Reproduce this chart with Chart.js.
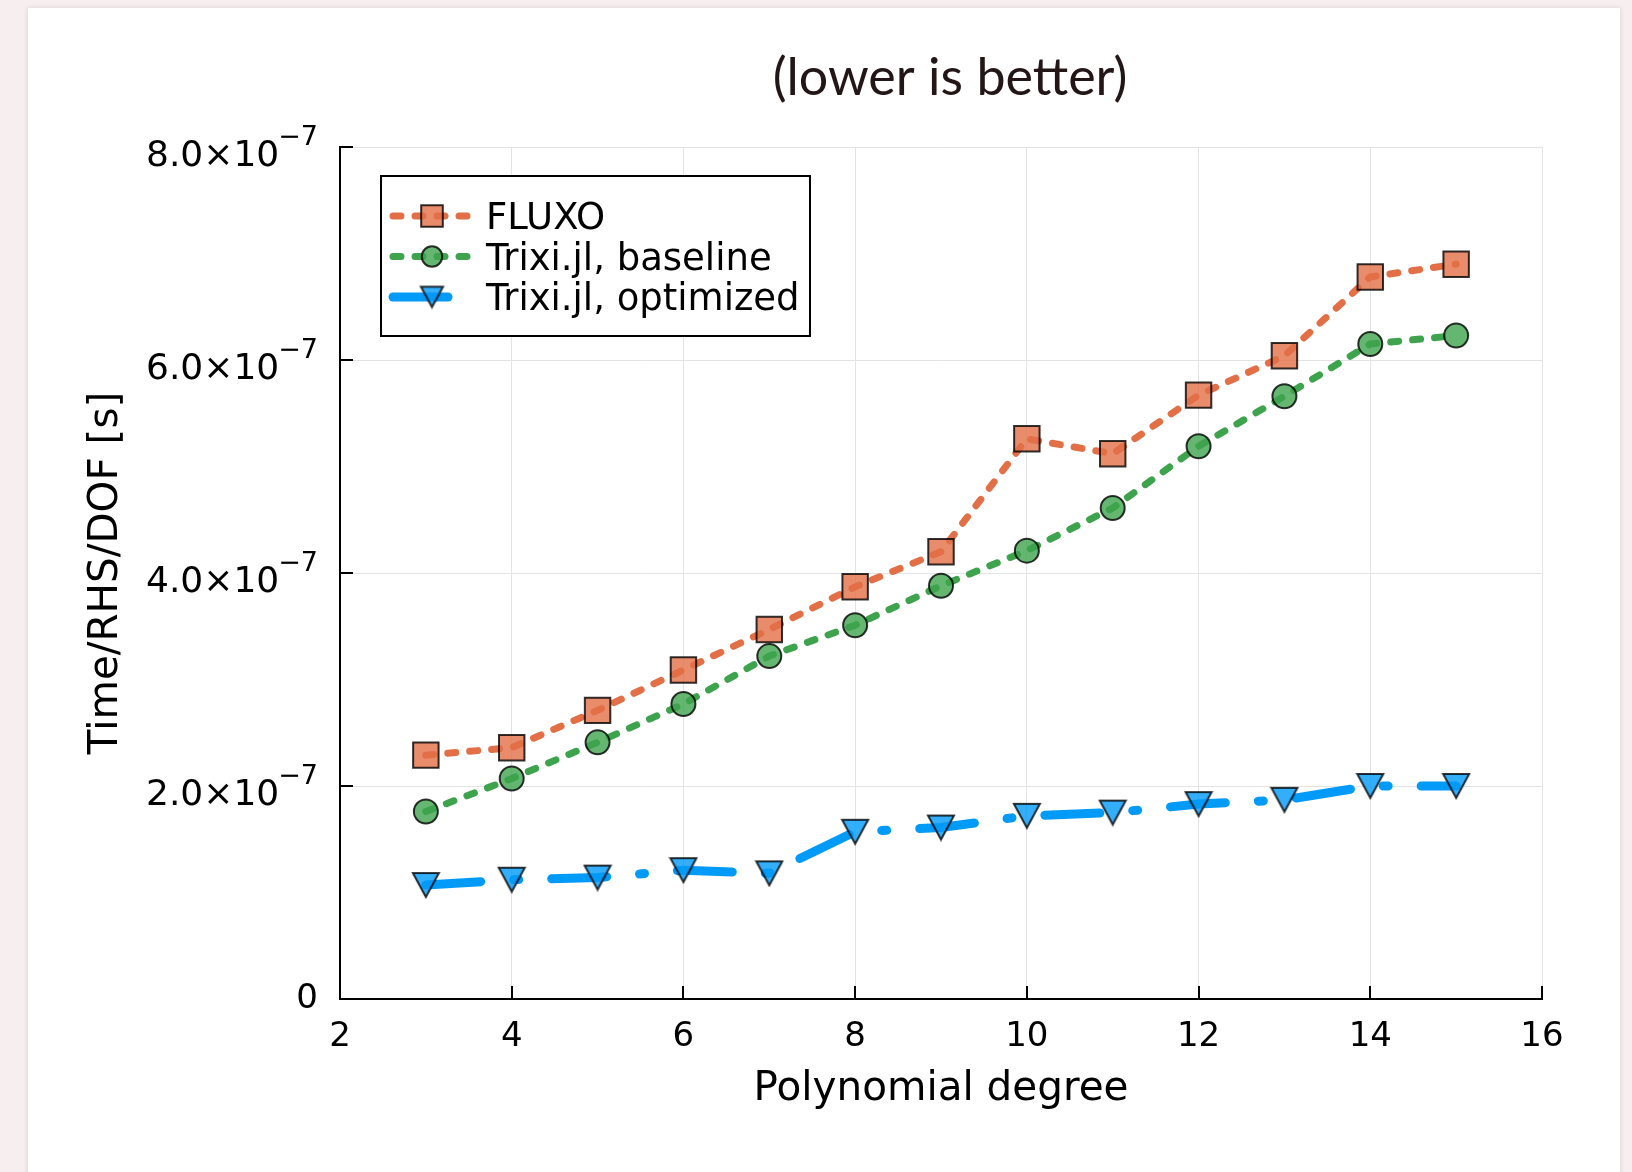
<!DOCTYPE html>
<html>
<head>
<meta charset="utf-8">
<script src="https://cdn.jsdelivr.net/npm/chart.js@4.4.1/dist/chart.umd.min.js"></script>
<style>
  html, body { margin: 0; padding: 0; }
  body { width: 1632px; height: 1172px; background: #f6eeef; position: relative; overflow: hidden; }
  #card { position: absolute; left: 28px; top: 8px; width: 1592px; height: 1200px; background: #fff; box-shadow: 0 0 5px rgba(120, 80, 80, 0.18); }
  #wrap { position: absolute; left: 0; top: 0; width: 1632px; height: 1172px; }
</style>
</head>
<body>
<div id="card"></div>
<div id="wrap"><canvas id="chart" width="1632" height="1172"></canvas></div>
<script>
var degrees = [3, 4, 5, 6, 7, 8, 9, 10, 11, 12, 13, 14, 15];
var fluxoTimes = [2.29e-7, 2.36e-7, 2.71e-7, 3.09e-7, 3.47e-7, 3.87e-7, 4.20e-7, 5.26e-7, 5.12e-7, 5.67e-7, 6.04e-7, 6.78e-7, 6.90e-7];
var baselineTimes = [1.76e-7, 2.07e-7, 2.41e-7, 2.77e-7, 3.22e-7, 3.51e-7, 3.88e-7, 4.21e-7, 4.61e-7, 5.19e-7, 5.66e-7, 6.15e-7, 6.23e-7];
var optimizedTimes = [1.07e-7, 1.12e-7, 1.14e-7, 1.21e-7, 1.18e-7, 1.57e-7, 1.61e-7, 1.72e-7, 1.75e-7, 1.83e-7, 1.87e-7, 2.00e-7, 2.00e-7];
var seriesNames = ['FLUXO', 'Trixi.jl, baseline', 'Trixi.jl, optimized'];

var xTicks = [2, 4, 6, 8, 10, 12, 14, 16];
var yTicks = [0, 2e-7, 4e-7, 6e-7, 8e-7];
var yTickBase = ['0', '2.0\u00d710', '4.0\u00d710', '6.0\u00d710', '8.0\u00d710'];
var yTickExp = ['', '\u22127', '\u22127', '\u22127', '\u22127'];

var titleText = '(lower is better)';
var xTitle = 'Polynomial degree';
var yTitle = 'Time/RHS/DOF [s]';

var FONT = '"DejaVu Sans", sans-serif';

function toPoints(ys) {
  return degrees.map(function (d, i) { return {x: d, y: ys[i]}; });
}

// downward triangle marker, centred on its bounding box like the GR one
function makeTriangle(scale) {
  var w = 26 * scale, h = 24 * scale;
  var c = document.createElement('canvas');
  c.width = Math.ceil(w + 4);
  c.height = Math.ceil(h + 4);
  var g = c.getContext('2d');
  var cx = c.width / 2, cy = c.height / 2;
  g.beginPath();
  g.moveTo(cx - w / 2, cy - h / 2);
  g.lineTo(cx + w / 2, cy - h / 2);
  g.lineTo(cx, cy + h / 2);
  g.closePath();
  g.fillStyle = 'rgba(0, 154, 249, 0.8)';
  g.fill();
  g.lineWidth = 2;
  g.lineJoin = 'miter';
  g.strokeStyle = 'rgba(0, 0, 0, 0.8)';
  g.stroke();
  return c;
}
var triMarker = makeTriangle(1);
var triLegend = makeTriangle(0.85);

// inward ticks, tick labels, axis titles, title and boxed legend
var decorPlugin = {
  id: 'decor',
  beforeDatasetsDraw: function (chart) {
    var ctx = chart.ctx;
    var area = chart.chartArea;
    var xs = chart.scales.x, ys = chart.scales.y;
    ctx.save();
    ctx.strokeStyle = '#000';
    ctx.lineWidth = 2;
    ctx.beginPath();
    xTicks.forEach(function (t) {
      var px = Math.round(xs.getPixelForValue(t));
      ctx.moveTo(px, area.bottom);
      ctx.lineTo(px, area.bottom - 13);
    });
    yTicks.forEach(function (t) {
      var py = Math.round(ys.getPixelForValue(t));
      ctx.moveTo(area.left, py);
      ctx.lineTo(area.left + 13, py);
    });
    ctx.stroke();
    ctx.restore();
  },
  afterDatasetsDraw: function (chart) {
    var ctx = chart.ctx;
    var area = chart.chartArea;
    var xs = chart.scales.x, ys = chart.scales.y;
    ctx.save();
    ctx.fillStyle = '#000';

    // x tick labels
    ctx.font = '34px ' + FONT;
    ctx.textAlign = 'center';
    ctx.textBaseline = 'alphabetic';
    xTicks.forEach(function (t) {
      ctx.fillText(String(t), xs.getPixelForValue(t), area.bottom + 47);
    });

    // y tick labels with superscript exponent
    var right = area.left - 22;
    yTicks.forEach(function (t, i) {
      var py = ys.getPixelForValue(t);
      if (!yTickExp[i]) {
        ctx.font = '34px ' + FONT;
        ctx.textAlign = 'right';
        ctx.textBaseline = 'middle';
        ctx.fillText(yTickBase[i], right, py);
        return;
      }
      ctx.textBaseline = 'alphabetic';
      ctx.textAlign = 'right';
      ctx.font = '27px ' + FONT;
      var ew = ctx.measureText(yTickExp[i]).width;
      ctx.fillText(yTickExp[i], right, py - 2);
      ctx.font = '36px ' + FONT;
      ctx.fillText(yTickBase[i], right - ew + 1, py + 19);
    });

    // axis titles
    ctx.font = '40.5px ' + FONT;
    ctx.textAlign = 'center';
    ctx.textBaseline = 'alphabetic';
    ctx.fillText(xTitle, (area.left + area.right) / 2, 1100);
    ctx.save();
    ctx.translate(117, (area.top + area.bottom) / 2);
    ctx.rotate(-Math.PI / 2);
    ctx.fillText(yTitle, 0, 0);
    ctx.restore();

    // title
    ctx.font = '52px Lato, sans-serif';
    ctx.fillStyle = '#231616';
    ctx.fillText(titleText, (area.left + area.right) / 2 + 9, 95);

    // legend
    var bx = 381, by = 176, bw = 429, bh = 160;
    ctx.fillStyle = '#fff';
    ctx.fillRect(bx, by, bw, bh);
    ctx.strokeStyle = '#000';
    ctx.lineWidth = 2;
    ctx.strokeRect(bx, by, bw, bh);

    chart.data.datasets.forEach(function (ds, i) {
      var ly = 216 + i * 40.5;
      ctx.save();
      ctx.strokeStyle = ds.borderColor;
      ctx.lineWidth = ds.borderWidth;
      ctx.lineCap = 'round';
      ctx.setLineDash(ds.borderDash);
      ctx.beginPath();
      ctx.moveTo(393, ly);
      ctx.lineTo(470, ly);
      ctx.stroke();
      ctx.restore();

      ctx.save();
      ctx.fillStyle = ds.pointBackgroundColor;
      ctx.strokeStyle = ds.pointBorderColor;
      ctx.lineWidth = ds.pointBorderWidth;
      Chart.helpers.drawPoint(ctx, {
        pointStyle: ds.pointStyle === triMarker ? triLegend : ds.pointStyle,
        radius: ds.pointRadius * 0.85,
        rotation: 0,
        borderWidth: ds.pointBorderWidth
      }, 432, ly);
      ctx.restore();

      ctx.fillStyle = '#000';
      ctx.font = '37px ' + FONT;
      ctx.textAlign = 'left';
      ctx.textBaseline = 'alphabetic';
      ctx.fillText(seriesNames[i], 486, ly + 13);
    });

    ctx.restore();
  }
};

var ctx = document.getElementById('chart').getContext('2d');

window.timingChart = new Chart(ctx, {
  type: 'line',
  data: {
    datasets: [{
      label: seriesNames[0],
      data: toPoints(fluxoTimes),
      borderColor: '#e26f46',
      borderWidth: 7,
      borderDash: [8, 14],
      borderCapStyle: 'round',
      pointStyle: 'rect',
      pointRadius: 18,
      pointBackgroundColor: 'rgba(226, 111, 70, 0.8)',
      pointBorderColor: 'rgba(0, 0, 0, 0.8)',
      pointBorderWidth: 2,
      tension: 0,
      fill: false
    }, {
      label: seriesNames[1],
      data: toPoints(baselineTimes),
      borderColor: '#3da44d',
      borderWidth: 7,
      borderDash: [8, 14],
      borderCapStyle: 'round',
      pointStyle: 'circle',
      pointRadius: 12,
      pointBackgroundColor: 'rgba(61, 164, 77, 0.8)',
      pointBorderColor: 'rgba(0, 0, 0, 0.8)',
      pointBorderWidth: 2,
      tension: 0,
      fill: false
    }, {
      label: seriesNames[2],
      data: toPoints(optimizedTimes),
      borderColor: '#009af9',
      borderWidth: 9,
      borderDash: [55, 33, 5, 33],
      borderCapStyle: 'round',
      pointStyle: triMarker,
      pointRadius: 14,
      pointBackgroundColor: 'rgba(0, 154, 249, 0.8)',
      pointBorderColor: 'rgba(0, 0, 0, 0.8)',
      pointBorderWidth: 2,
      tension: 0,
      fill: false
    }]
  },
  options: {
    responsive: false,
    devicePixelRatio: 1,
    animation: false,
    layout: {
      padding: {left: 0, top: 147, right: 90, bottom: 0}
    },
    plugins: {
      legend: {display: false},
      title: {display: false},
      tooltip: {enabled: false}
    },
    scales: {
      x: {
        type: 'linear',
        min: 2,
        max: 16,
        ticks: {display: false, stepSize: 2},
        grid: {color: '#e3e3e3', lineWidth: 1, drawTicks: false},
        border: {display: true, color: '#000', width: 2},
        afterFit: function (scale) { scale.height = 173; }
      },
      y: {
        type: 'linear',
        min: 0,
        max: 8e-7,
        ticks: {display: false, stepSize: 2e-7},
        grid: {color: '#e3e3e3', lineWidth: 1, drawTicks: false},
        border: {display: true, color: '#000', width: 2},
        afterFit: function (scale) { scale.width = 340; }
      }
    }
  },
  plugins: [decorPlugin]
});
</script>
</body>
</html>
